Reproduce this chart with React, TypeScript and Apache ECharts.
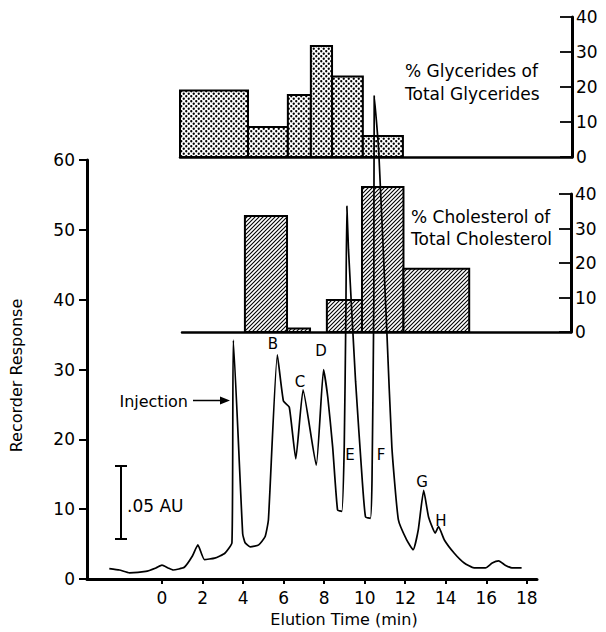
import React, { useEffect, useRef } from 'react';
import * as echarts from 'echarts';

// ---- data ----
const tickTimes = [0, 2, 4, 6, 8, 10, 12, 14, 16, 18];

const traceTime = [
  -2.6, -2.1, -1.6, -0.8, -0.3, 0.0, 0.3, 0.55, 1.1, 1.5, 1.77, 2.09, 2.6, 3.1, 3.45, 3.52,
  3.98, 4.1, 4.36, 4.77, 5.09, 5.25, 5.69, 5.99, 6.28, 6.6, 6.96, 7.61, 7.97, 8.18, 8.42,
  8.66, 8.87, 8.99, 9.07, 9.12, 9.2, 9.55, 9.88, 10.04, 10.28, 10.36, 10.45, 10.47, 10.69,
  11.09, 11.34, 11.66, 12.07, 12.39, 12.64, 12.91, 13.15, 13.48, 13.64, 13.93, 14.42, 14.91,
  15.39, 15.96, 16.29, 16.61, 16.93, 17.26, 17.74,
];
const traceResponse = [
  1.5, 1.3, 0.9, 1.1, 1.6, 2.0, 1.6, 1.3, 1.7, 3.3, 4.9, 2.8, 3.0, 3.7, 5.2, 34.2,
  6.5, 5.2, 4.6, 4.9, 6.1, 8.5, 32.1, 25.5, 24.6, 17.2, 27.1, 16.3, 30.0, 26.0, 18.9,
  9.9, 9.7, 18.9, 37.8, 53.4, 47.2, 28.3, 14.1, 8.9, 8.7, 14.1, 40.0, 69.2, 61.4,
  35.6, 18.9, 8.5, 5.6, 4.2, 7.0, 12.7, 8.9, 6.6, 7.5, 5.6, 3.7, 2.3,
  1.6, 1.6, 2.3, 2.6, 2.0, 1.6, 1.6,
];

const glycStart = [1.12, 4.43, 6.37, 7.49, 8.52, 10.02];
const glycEnd = [4.43, 6.37, 7.49, 8.52, 10.02, 11.97];
const glycPct = [19, 8.6, 17.7, 31.7, 23, 6];

const cholStart = [4.28, 6.33, 8.27, 9.98, 12.0];
const cholEnd = [6.33, 7.45, 9.98, 12.0, 15.2];
const cholPct = [33.6, 1, 9.3, 42, 18.3];

const FONT = '"DejaVu Sans", sans-serif';

function makeTile(size: number, draw: (ctx: CanvasRenderingContext2D) => void) {
  const c = document.createElement('canvas');
  c.width = size;
  c.height = size;
  const ctx = c.getContext('2d')!;
  ctx.fillStyle = '#fff';
  ctx.fillRect(0, 0, size, size);
  draw(ctx);
  return { image: c.toDataURL(), repeat: 'repeat', imageWidth: size, imageHeight: size } as any;
}

function text(x: number, y: number, t: string, size: number, align = 'center', extra: any = {}) {
  return {
    type: 'text',
    x,
    y,
    z: 100,
    style: {
      text: t,
      fontSize: size,
      fontFamily: FONT,
      fill: '#000',
      align,
      verticalAlign: 'middle',
      textAlign: align,
      textVerticalAlign: 'middle',
    },
    ...extra,
  };
}

function line(x1: number, y1: number, x2: number, y2: number, w = 1.6) {
  return {
    type: 'line',
    z: 100,
    shape: { x1, y1, x2, y2 },
    style: { stroke: '#000', lineWidth: w },
  };
}

export default function App() {
  const ref = useRef<HTMLDivElement>(null);

  useEffect(() => {
    const chart = echarts.init(ref.current!, null, { renderer: 'svg' });

    const dots = makeTile(5, (ctx) => {
      ctx.fillStyle = '#000';
      for (const [x, y] of [[1.25, 1.25], [3.75, 3.75]]) {
        ctx.beginPath();
        ctx.arc(x, y, 1.15, 0, Math.PI * 2);
        ctx.fill();
      }
    });
    const hatch = makeTile(4, (ctx) => {
      ctx.strokeStyle = '#000';
      ctx.lineWidth = 1.1;
      ctx.beginPath();
      ctx.moveTo(-1, 5);
      ctx.lineTo(5, -1);
      ctx.moveTo(-1, 1);
      ctx.lineTo(1, -1);
      ctx.moveTo(3, 5);
      ctx.lineTo(5, 3);
      ctx.stroke();
    });

    const barRender = (pattern: any) => (params: any, api: any) => {
      const p0 = api.coord([api.value(0), api.value(2)]);
      const p1 = api.coord([api.value(1), 0]);
      return {
        type: 'rect',
        shape: { x: p0[0], y: p0[1], width: p1[0] - p0[0], height: p1[1] - p0[1] },
        style: { fill: pattern, stroke: '#000', lineWidth: 2 },
      };
    };

    const option: any = {
      animation: false,
      backgroundColor: '#fff',
      grid: [
        { left: 81, top: 160, width: 456, height: 423 },
        { left: 180, top: 17, width: 392, height: 140 },
        { left: 182, top: 194, width: 389, height: 138 },
      ],
      xAxis: [
        {
          gridIndex: 0,
          type: 'value',
          min: -3.7,
          max: 18.5,
          axisLine: { show: true, onZero: false, lineStyle: { color: '#000', width: 3 } },
          splitLine: { show: false },
          axisTick: { customValues: tickTimes, length: 5, lineStyle: { color: '#000', width: 2 } },
          axisLabel: { customValues: tickTimes, fontSize: 17, fontFamily: FONT, color: '#000', margin: 10 },
          name: 'Elution Time (min)',
          nameLocation: 'middle',
          nameGap: 29,
          nameTextStyle: { fontSize: 16, fontFamily: FONT, color: '#000', padding: [0, 0, 0, 64] },
        },
        {
          gridIndex: 1,
          type: 'value',
          min: 1.12,
          max: 20.2,
          axisLine: { show: true, onZero: false, lineStyle: { color: '#000', width: 2.5 } },
          axisTick: { show: false },
          axisLabel: { show: false },
          splitLine: { show: false },
        },
        {
          gridIndex: 2,
          type: 'value',
          min: 1.217,
          max: 20.156,
          axisLine: { show: true, onZero: false, lineStyle: { color: '#000', width: 2.5 } },
          axisTick: { show: false },
          axisLabel: { show: false },
          splitLine: { show: false },
        },
      ],
      yAxis: [
        {
          gridIndex: 0,
          type: 'value',
          min: 0,
          max: 60,
          interval: 10,
          axisLine: { show: true, onZero: false, lineStyle: { color: '#000', width: 3 } },
          splitLine: { show: false },
          axisTick: { length: 8, lineStyle: { color: '#000', width: 2 } },
          axisLabel: { fontSize: 17, fontFamily: FONT, color: '#000', margin: 12 },
          name: 'Recorder Response',
          nameLocation: 'middle',
          nameGap: 63,
          nameRotate: 90,
          nameTextStyle: { fontSize: 16, fontFamily: FONT, color: '#000', padding: [0, 12, 0, 0] },
        },
        {
          gridIndex: 1,
          type: 'value',
          position: 'right',
          min: 0,
          max: 40,
          interval: 10,
          axisLine: { show: true, onZero: false, lineStyle: { color: '#000', width: 3 } },
          axisTick: { inside: true, length: 12, lineStyle: { color: '#000', width: 1.8 } },
          axisLabel: { fontSize: 17, fontFamily: FONT, color: '#000', margin: 4 },
          splitLine: { show: false },
        },
        {
          gridIndex: 2,
          type: 'value',
          position: 'right',
          min: 0,
          max: 40,
          interval: 10,
          axisLine: { show: true, onZero: false, lineStyle: { color: '#000', width: 3 } },
          axisTick: { inside: true, length: 12, lineStyle: { color: '#000', width: 1.8 } },
          axisLabel: { fontSize: 17, fontFamily: FONT, color: '#000', margin: 4 },
          splitLine: { show: false },
        },
      ],
      series: [
        {
          type: 'custom',
          name: 'Glycerides',
          xAxisIndex: 1,
          yAxisIndex: 1,
          renderItem: barRender(dots),
          data: glycPct.map((v, i) => [glycStart[i], glycEnd[i], v]),
          z: 2,
        },
        {
          type: 'custom',
          name: 'Cholesterol',
          xAxisIndex: 2,
          yAxisIndex: 2,
          renderItem: barRender(hatch),
          data: cholPct.map((v, i) => [cholStart[i], cholEnd[i], v]),
          z: 2,
        },
        {
          type: 'line',
          name: 'Trace',
          xAxisIndex: 0,
          yAxisIndex: 0,
          data: traceTime.map((t, i) => [t, traceResponse[i]]),
          symbol: 'none',
          showSymbol: false,
          clip: false,
          smooth: 0.15,
          lineStyle: { color: '#000', width: 1.7 },
          z: 10,
        },
      ],
      graphic: [
        text(188, 401, 'Injection', 16, 'right'),
        line(193, 400.5, 223, 400.5, 1.5),
        { type: 'polygon', z: 100, shape: { points: [[230, 400.5], [220, 396.5], [220, 404.5]] }, style: { fill: '#000' } },
        line(121, 466, 121, 539, 2),
        line(115, 466, 127, 466, 2),
        line(115, 539, 127, 539, 2),
        text(127, 506, '.05 AU', 17, 'left'),
        text(273, 344, 'B', 15),
        text(300, 382, 'C', 15),
        text(321, 351, 'D', 15),
        text(350, 455, 'E', 15),
        text(381, 455, 'F', 15),
        text(422, 482, 'G', 15),
        text(441, 521, 'H', 15),
        text(405, 71, '% Glycerides of', 17, 'left'),
        text(405, 94, 'Total Glycerides', 17, 'left'),
        text(411, 217, '% Cholesterol of', 17, 'left'),
        text(411, 239, 'Total Cholesterol', 17, 'left'),
      ],
    };

    chart.setOption(option);
    return () => chart.dispose();
  }, []);

  return (
    <div
      ref={ref}
      style={{ position: 'fixed', left: 0, top: 0, width: 606, height: 632, background: '#fff' }}
    />
  );
}
